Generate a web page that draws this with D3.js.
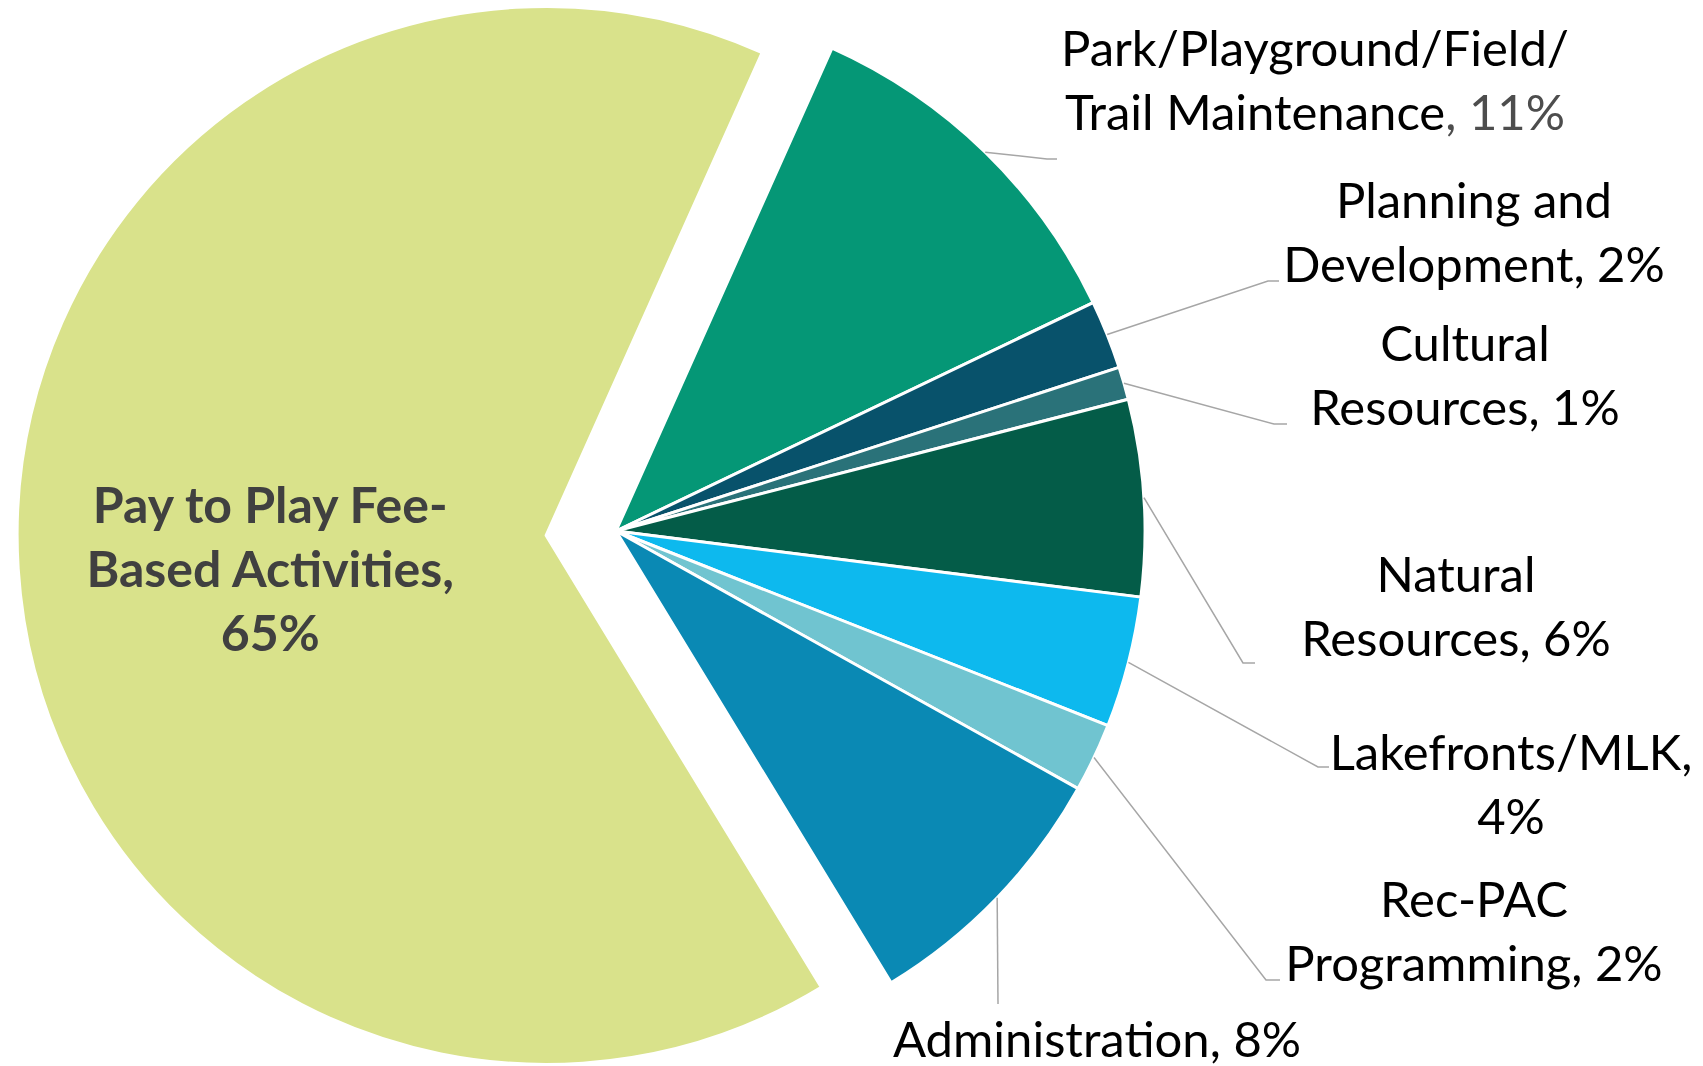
<!DOCTYPE html>
<html>
<head>
<meta charset="utf-8">
<script src="https://cdn.jsdelivr.net/npm/d3@7"></script>
<style>
  html, body { margin: 0; padding: 0; background: #fff; }
  svg { display: block; }
</style>
</head>
<body>
<svg id="chart" width="1703" height="1066"></svg>
<script>
// Data (order = clockwise from top)
const categories = [
    "Park/Playground/Field/Trail Maintenance",
    "Planning and Development",
    "Cultural Resources",
    "Natural Resources",
    "Lakefronts/MLK",
    "Rec-PAC Programming",
    "Administration",
    "Pay to Play Fee-Based Activities"
];
const values = [11.2, 2.1, 1.0, 6.0, 4.0, 2.1, 8.2, 65.4];
// label text, "|" = line break, {p} = percent
const labelTexts = [
    "Park/Playground/Field/|Trail Maintenance{c}",
    "Planning and|Development, {p}",
    "Cultural|Resources, {p}",
    "Natural|Resources, {p}",
    "Lakefronts/MLK,|{p}",
    "Rec-PAC|Programming, {p}",
    "Administration, {p}",
    "Pay to Play Fee-|Based Activities,|{p}"
];
const colors = ["#059776", "#08526B", "#2A7279", "#045C48", "#0DB9EE", "#70C4D0", "#0A89B4", "#D9E28B"];

// layout (pixels)
const cx = 616, cy = 531, radius = 529;
const startAngle = 24.1 * Math.PI / 180;
const explodeIdx = 7, explodeDist = 70;
const lineH = 64;
// label block centre + leader elbow / end for the outside labels
const labelLayout = [
    {x: 1315, y: 80,  ex: 1047, ey: 159, hx: 1057},
    {x: 1474, y: 232, ex: 1268, ey: 281, hx: 1279},
    {x: 1465, y: 375, ex: 1274, ey: 424, hx: 1287},
    {x: 1456, y: 606, ex: 1243, ey: 663, hx: 1255},
    {x: 1511, y: 784, ex: 1318, ey: 767, hx: 1329},
    {x: 1474, y: 931, ex: 1266, ey: 980, hx: 1280},
    {x: 1097, y: 1039, ex: 998, ey: 1004, hx: 998}
];

const svg = d3.select("#chart");
const g = svg.append("g").attr("transform", `translate(${cx},${cy})`);

const total = d3.sum(values);
const pie = d3.pie().sort(null).value(d => d)
    .startAngle(startAngle).endAngle(startAngle + 2 * Math.PI);
const arcs = pie(values);

const arc = d3.arc().innerRadius(0).outerRadius(radius);
const edgeArc = d3.arc().innerRadius(radius).outerRadius(radius);

const offset = (d, i) => {
    if (i !== explodeIdx) return [0, 0];
    const a = (d.startAngle + d.endAngle) / 2;
    return [Math.sin(a) * explodeDist, -Math.cos(a) * explodeDist];
};

// slices
g.selectAll("path.slice")
    .data(arcs)
    .enter()
    .append("path")
    .attr("class", "slice")
    .attr("d", arc)
    .attr("transform", (d, i) => `translate(${offset(d, i)})`)
    .attr("fill", (d, i) => colors[i])
    .attr("stroke", "#fff")
    .attr("stroke-width", 3)
    .attr("stroke-linejoin", "round");

const pct = i => Math.round(values[i] / total * 100) + "%";

// leader lines
arcs.forEach((d, i) => {
    if (i === explodeIdx) return;
    const L = labelLayout[i];
    const [sx, sy] = edgeArc.centroid(d);
    svg.append("polyline")
        .attr("points", `${cx + sx},${cy + sy} ${L.ex},${L.ey} ${L.hx},${L.ey}`)
        .attr("fill", "none")
        .attr("stroke", "#A6A6A6")
        .attr("stroke-width", 1.5);
});

// outside labels
arcs.forEach((d, i) => {
    if (i === explodeIdx) return;
    const L = labelLayout[i];
    const lines = labelTexts[i].split("|");
    const t = svg.append("text")
        .attr("text-anchor", "middle")
        .attr("font-family", "Lato, sans-serif")
        .attr("font-size", 49)
        .attr("fill", "#000");
    lines.forEach((ln, k) => {
        const y = L.y + (k - (lines.length - 1) / 2) * lineH;
        const ts = t.append("tspan").attr("x", L.x).attr("y", y).attr("dy", "0.36em");
        if (ln.includes("{c}")) {
            ts.text(ln.replace("{c}", ""));
            ts.append("tspan").attr("fill", "#4D4D4D").text(", " + pct(i));
        } else {
            ts.text(ln.replace("{p}", pct(i)));
        }
    });
});

// inside label of the exploded slice
const big = arcs[explodeIdx];
const [ox, oy] = offset(big, explodeIdx);
const [lx, ly] = arc.centroid(big);
const bigLines = labelTexts[explodeIdx].split("|");
const bt = g.append("text")
    .attr("text-anchor", "middle")
    .attr("font-family", "Lato, sans-serif")
    .attr("font-weight", "bold")
    .attr("font-size", 50)
    .attr("fill", "#404040");
bigLines.forEach((ln, k) => {
    bt.append("tspan")
        .attr("x", lx + ox - 12)
        .attr("y", ly + oy + 17 + (k - 1) * lineH)
        .attr("dy", "0.36em")
        .text(ln.replace("{p}", pct(explodeIdx)));
});
</script>
</body>
</html>
